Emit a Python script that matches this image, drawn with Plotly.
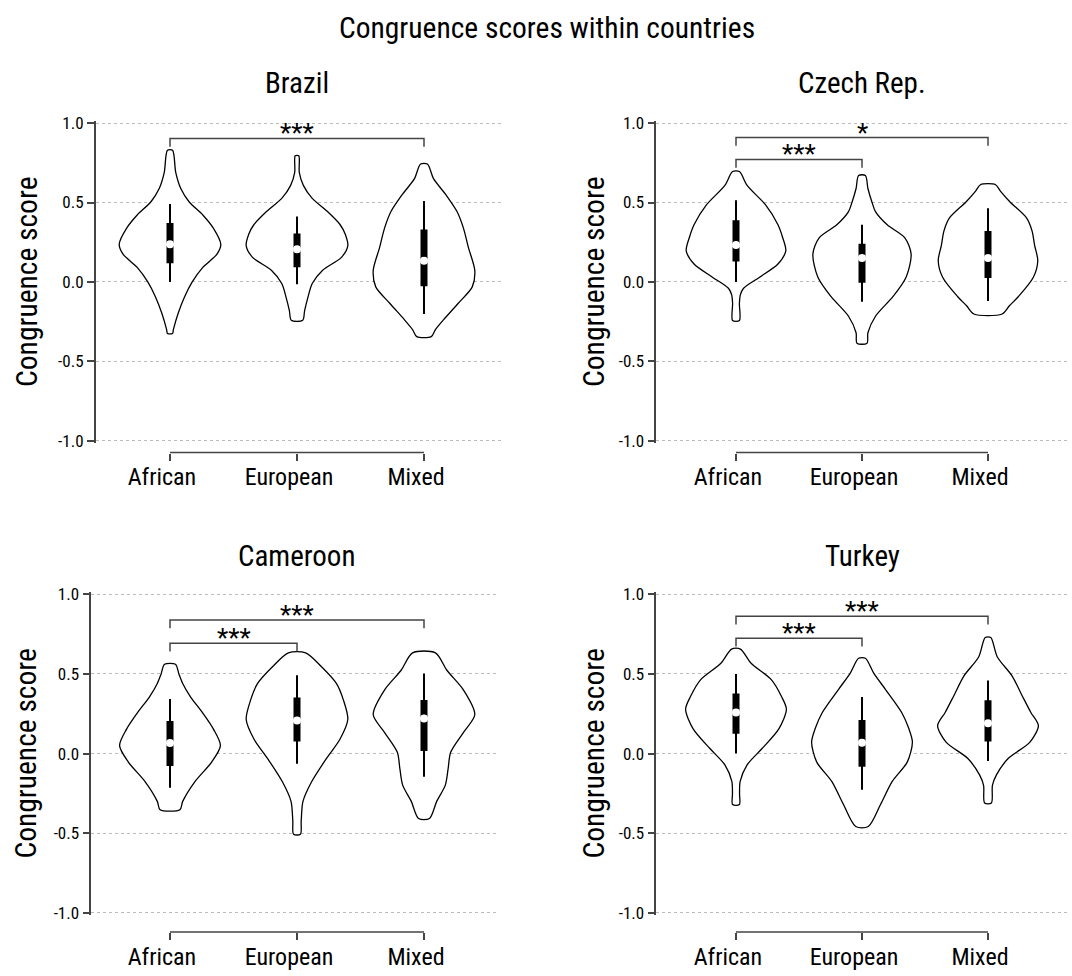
import plotly.graph_objects as go

# ---------------- data ----------------
groups = ["African", "European", "Mixed"]
countries = ["Brazil", "Czech Rep.", "Cameroon", "Turkey"]
ytick_vals = [-1.0, -0.5, 0.0, 0.5, 1.0]
ytick_text = ["-1.0", "-0.5", "0.0", "0.5", "1.0"]

# violin outlines: score levels (bottom -> top) and half-widths (category units)
brazil_african_y = [-0.324, -0.299, -0.196, -0.093, 0.0, 0.093, 0.175, 0.237, 0.34, 0.42, 0.505, 0.588, 0.69, 0.829]
brazil_african_w = [0.02, 0.027, 0.065, 0.115, 0.175, 0.26, 0.37, 0.40, 0.34, 0.26, 0.15, 0.085, 0.045, 0.02]
brazil_european_y = [-0.241, -0.18, -0.1, -0.01, 0.072, 0.155, 0.227, 0.3, 0.36, 0.443, 0.526, 0.608, 0.69, 0.794]
brazil_european_w = [0.045, 0.06, 0.085, 0.12, 0.2, 0.35, 0.40, 0.38, 0.34, 0.24, 0.12, 0.05, 0.018, 0.014]
brazil_mixed_y = [-0.344, -0.3, -0.237, -0.134, -0.031, 0.072, 0.216, 0.34, 0.443, 0.546, 0.65, 0.742]
brazil_mixed_w = [0.057, 0.09, 0.155, 0.27, 0.38, 0.40, 0.35, 0.31, 0.26, 0.175, 0.075, 0.027]

czech_african_y = [-0.243, -0.134, -0.08, -0.04, 0.03, 0.113, 0.196, 0.28, 0.36, 0.485, 0.608, 0.695]
czech_african_w = [0.027, 0.027, 0.035, 0.06, 0.187, 0.333, 0.395, 0.37, 0.333, 0.235, 0.088, 0.027]
czech_european_y = [-0.386, -0.32, -0.216, -0.093, 0.03, 0.175, 0.278, 0.36, 0.443, 0.5, 0.588, 0.67]
czech_european_w = [0.04, 0.047, 0.107, 0.245, 0.35, 0.39, 0.34, 0.2, 0.107, 0.08, 0.047, 0.027]
czech_mixed_y = [-0.202, -0.15, -0.093, 0.03, 0.134, 0.23, 0.32, 0.402, 0.505, 0.57, 0.612]
czech_mixed_w = [0.112, 0.17, 0.24, 0.36, 0.395, 0.37, 0.35, 0.307, 0.173, 0.1, 0.06]

cameroon_african_y = [-0.352, -0.3, -0.177, -0.053, 0.05, 0.152, 0.255, 0.358, 0.44, 0.5, 0.56]
cameroon_african_w = [0.078, 0.1, 0.195, 0.328, 0.397, 0.343, 0.257, 0.16, 0.1, 0.07, 0.043]
cameroon_european_y = [-0.506, -0.424, -0.3, -0.177, -0.033, 0.09, 0.214, 0.337, 0.44, 0.543, 0.632]
cameroon_european_w = [0.027, 0.033, 0.047, 0.115, 0.23, 0.338, 0.40, 0.365, 0.31, 0.195, 0.068]
cameroon_mixed_y = [-0.407, -0.3, -0.198, -0.095, 0.008, 0.132, 0.245, 0.4, 0.523, 0.632]
cameroon_mixed_w = [0.043, 0.1, 0.168, 0.19, 0.21, 0.31, 0.40, 0.31, 0.18, 0.09]

turkey_african_y = [-0.32, -0.25, -0.175, -0.072, 0.03, 0.155, 0.278, 0.36, 0.464, 0.567, 0.656]
turkey_african_w = [0.027, 0.028, 0.033, 0.087, 0.205, 0.34, 0.40, 0.36, 0.28, 0.12, 0.035]
turkey_european_y = [-0.458, -0.32, -0.175, -0.052, 0.072, 0.16, 0.258, 0.402, 0.505, 0.598]
turkey_european_w = [0.05, 0.147, 0.24, 0.36, 0.40, 0.37, 0.315, 0.187, 0.093, 0.027]
turkey_mixed_y = [-0.31, -0.2, -0.134, -0.031, 0.072, 0.175, 0.258, 0.36, 0.485, 0.608, 0.728]
turkey_mixed_w = [0.027, 0.035, 0.067, 0.16, 0.333, 0.40, 0.34, 0.273, 0.193, 0.073, 0.022]

# box statistics per group: lower whisker, q1, median, q3, upper whisker
brazil_lo = [0.0, -0.014, -0.202]
brazil_q1 = [0.118, 0.093, -0.027]
brazil_med = [0.237, 0.206, 0.134]
brazil_q3 = [0.371, 0.305, 0.33]
brazil_hi = [0.49, 0.412, 0.509]

czech_lo = [0.0, -0.124, -0.12]
czech_q1 = [0.128, -0.005, 0.025]
czech_med = [0.233, 0.15, 0.15]
czech_q3 = [0.388, 0.24, 0.32]
czech_hi = [0.515, 0.36, 0.464]

cameroon_lo = [-0.214, -0.064, -0.146]
cameroon_q1 = [-0.078, 0.076, 0.016]
cameroon_med = [0.066, 0.208, 0.22]
cameroon_q3 = [0.204, 0.352, 0.337]
cameroon_hi = [0.342, 0.492, 0.502]

turkey_lo = [0.0, -0.227, -0.047]
turkey_q1 = [0.124, -0.082, 0.076]
turkey_med = [0.258, 0.068, 0.19]
turkey_q3 = [0.377, 0.21, 0.334]
turkey_hi = [0.5, 0.355, 0.458]

# significance brackets: (from group, to group, height, label)
brazil_sig = [(0, 2, 0.903, "***")]
czech_sig = [(0, 1, 0.771, "***"), (0, 2, 0.909, "*")]
cameroon_sig = [(0, 1, 0.693, "***"), (0, 2, 0.838, "***")]
turkey_sig = [(0, 1, 0.724, "***"), (0, 2, 0.862, "***")]

# ---------------- assembly ----------------
panels = [
    dict(name="Brazil",
         prof=[(brazil_african_y, brazil_african_w), (brazil_european_y, brazil_european_w), (brazil_mixed_y, brazil_mixed_w)],
         box=(brazil_lo, brazil_q1, brazil_med, brazil_q3, brazil_hi), sig=brazil_sig),
    dict(name="Czech Rep.",
         prof=[(czech_african_y, czech_african_w), (czech_european_y, czech_european_w), (czech_mixed_y, czech_mixed_w)],
         box=(czech_lo, czech_q1, czech_med, czech_q3, czech_hi), sig=czech_sig),
    dict(name="Cameroon",
         prof=[(cameroon_african_y, cameroon_african_w), (cameroon_european_y, cameroon_european_w), (cameroon_mixed_y, cameroon_mixed_w)],
         box=(cameroon_lo, cameroon_q1, cameroon_med, cameroon_q3, cameroon_hi), sig=cameroon_sig),
    dict(name="Turkey",
         prof=[(turkey_african_y, turkey_african_w), (turkey_european_y, turkey_european_w), (turkey_mixed_y, turkey_mixed_w)],
         box=(turkey_lo, turkey_q1, turkey_med, turkey_q3, turkey_hi), sig=turkey_sig),
]

W, H = 1072, 976
FONT = "Liberation Sans Narrow, Roboto Condensed, DejaVu Sans Condensed, Liberation Sans, sans-serif"
AXC = "#444444"

# layout geometry (pixels)
geo = [
    dict(x0=95.7, x1=502, cat0=170, step=127, top=117, bot=440, axis_y=452, title_x=297, title_y=88, ytitle_x=27),
    dict(x0=656.4, x1=1067, cat0=736, step=126, top=117, bot=440, axis_y=452, title_x=862, title_y=88, ytitle_x=594),
    dict(x0=91.3, x1=499, cat0=170, step=127, top=596, bot=920, axis_y=939.3, title_x=296, title_y=569, ytitle_x=26),
    dict(x0=656.4, x1=1067, cat0=736, step=126, top=596, bot=920, axis_y=939.3, title_x=862, title_y=569, ytitle_x=594),
]

fig = go.Figure()
layout = dict(width=W, height=H, margin=dict(l=0, r=0, t=0, b=0),
              paper_bgcolor="white", plot_bgcolor="white", showlegend=False,
              font=dict(family=FONT, color="black"))
annotations = []
shapes = []

YPAD = 0.012
for k, (p, g) in enumerate(zip(panels, geo)):
    sfx = "" if k == 0 else str(k + 1)
    xa, ya = "x" + sfx, "y" + sfx
    upp = (g["bot"] - g["top"]) / 2.0  # pixels per unit
    ytop_px = g["top"] - YPAD * upp
    ybot_px = g["bot"] + YPAD * upp
    xr = [(g["x0"] - g["cat0"]) / g["step"], (g["x1"] - g["cat0"]) / g["step"]]
    layout["xaxis" + sfx] = dict(
        domain=[g["x0"] / W, g["x1"] / W], range=xr, anchor="free",
        position=1 - g["axis_y"] / H,
        tickvals=[0, 1, 2], ticktext=groups, ticks="outside", ticklen=7,
        tickwidth=1.5, tickcolor=AXC, showline=False, showgrid=False, zeroline=False,
        tickfont=dict(size=24, family=FONT, color="black"), ticklabelshift=-8,
        ticklabelstandoff=-4, fixedrange=True,
    )
    layout["yaxis" + sfx] = dict(
        domain=[1 - ybot_px / H, 1 - ytop_px / H], range=[-1 - YPAD, 1 + YPAD],
        anchor=xa, tickvals=ytick_vals, ticktext=ytick_text, ticks="outside",
        ticklen=7, tickwidth=1.5, tickcolor=AXC, showline=True, linecolor=AXC,
        linewidth=1.5, showgrid=True, gridcolor="#bbbbbb", griddash="dot",
        gridwidth=1, zeroline=False, tickfont=dict(size=17, family=FONT, color="black"),
        fixedrange=True,
    )
    # trimmed bottom axis line
    shapes.append(dict(type="line", xref=xa, yref="paper", x0=0, x1=2,
                       y0=1 - g["axis_y"] / H, y1=1 - g["axis_y"] / H,
                       line=dict(color=AXC, width=1.5)))
    # violins
    for i, (yy, ww) in enumerate(p["prof"]):
        xs = [i + w for w in ww] + [i - w for w in ww[::-1]] + [i + ww[0]]
        ys = list(yy) + list(yy[::-1]) + [yy[0]]
        fig.add_trace(go.Scatter(x=xs, y=ys, xaxis=xa, yaxis=ya, mode="lines",
                                 fill="toself", fillcolor="white",
                                 line=dict(color="black", width=1.3, shape="spline", smoothing=0.8),
                                 hoverinfo="skip"))
    lo, q1, med, q3, hi = p["box"]
    for i in range(3):
        fig.add_trace(go.Scatter(x=[i, i], y=[lo[i], hi[i]], xaxis=xa, yaxis=ya, mode="lines",
                                 line=dict(color="black", width=2), hoverinfo="skip"))
        fig.add_trace(go.Scatter(x=[i, i], y=[q1[i], q3[i]], xaxis=xa, yaxis=ya, mode="lines",
                                 line=dict(color="black", width=7), hoverinfo="skip"))
    fig.add_trace(go.Scatter(x=[0, 1, 2], y=med, xaxis=xa, yaxis=ya, mode="markers",
                             marker=dict(color="white", size=8, line=dict(width=0)),
                             hoverinfo="skip"))
    # significance brackets
    for (a, b, h, lab) in p["sig"]:
        fig.add_trace(go.Scatter(x=[a, a, b, b], y=[h - 0.052, h, h, h - 0.052],
                                 xaxis=xa, yaxis=ya, mode="lines",
                                 line=dict(color=AXC, width=1.5), hoverinfo="skip"))
        annotations.append(dict(x=(a + b) / 2, y=h, xref=xa, yref=ya, text=lab,
                                showarrow=False, xanchor="center", yanchor="bottom",
                                yshift=-12, font=dict(size=26, family=FONT, color="black")))
    # subplot title
    annotations.append(dict(x=g["title_x"] / W, y=1 - g["title_y"] / H, xref="paper", yref="paper",
                            text=p["name"], showarrow=False, xanchor="center", yanchor="bottom",
                            yshift=-7, font=dict(size=29, family=FONT, color="black")))
    # y-axis title
    annotations.append(dict(x=g["ytitle_x"] / W, y=1 - (g["top"] + g["bot"]) / 2 / H,
                            xref="paper", yref="paper", text="Congruence score", textangle=-90,
                            showarrow=False, xanchor="center", yanchor="middle",
                            font=dict(size=29.5, family=FONT, color="black")))

annotations.append(dict(x=547 / W, y=1 - 33 / H, xref="paper", yref="paper",
                        text="Congruence scores within countries", showarrow=False,
                        xanchor="center", yanchor="bottom", yshift=-7,
                        font=dict(size=29.5, family=FONT, color="black")))

layout["annotations"] = annotations
layout["shapes"] = shapes
fig.update_layout(**layout)
fig.write_html("out.html", config={"displayModeBar": False},
               post_script="document.body.style.margin='0';document.body.style.overflow='hidden';")
